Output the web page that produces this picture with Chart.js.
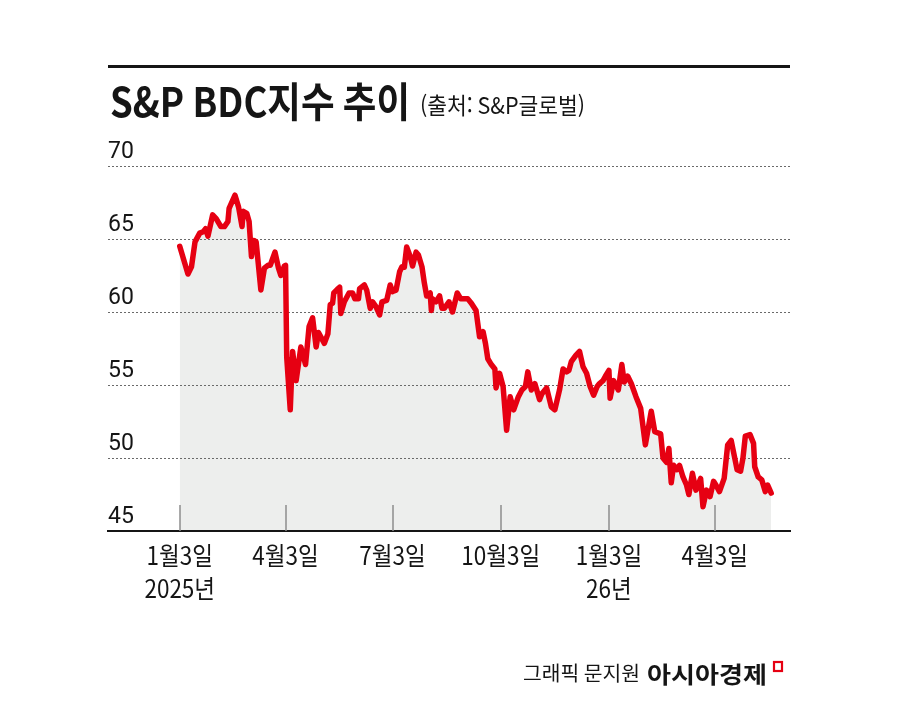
<!DOCTYPE html>
<html lang="ko">
<head>
<meta charset="utf-8">
<title>S&amp;P BDC지수 추이</title>
<script src="https://cdn.jsdelivr.net/npm/chart.js@4/dist/chart.umd.min.js"></script>
<style>
  html, body { margin: 0; padding: 0; background: #fff; overflow: hidden; }
  canvas { display: block; }
</style>
</head>
<body>
<canvas id="bdcChart" width="901" height="721"></canvas>
<script>
// 2025-01-03 기준 경과일수 / S&P BDC 지수
const dayOffsets = [
  0, 7, 10, 13, 17, 20, 22, 24, 28, 31,
  35, 38, 41, 42, 47, 50, 53, 54, 57, 59,
  61, 63, 65, 69, 72, 75, 77, 81, 84, 86,
  89, 90, 91, 94, 96, 99, 103, 107, 110, 113,
  116, 118, 123, 126, 128, 130, 131, 134, 136, 137,
  140, 144, 147, 149, 152, 153, 157, 159, 162, 164,
  167, 170, 172, 176, 179, 181, 184, 187, 189, 191,
  193, 196, 198, 201, 203, 206, 208, 210, 213, 214,
  215, 218, 221, 223, 225, 229, 232, 236, 239, 242,
  245, 248, 252, 255, 258, 260, 262, 265, 268, 269,
  272, 275, 278, 281, 284, 288, 291, 294, 296, 299,
  302, 306, 308, 312, 316, 319, 323, 326, 329, 331,
  333, 337, 340, 343, 346, 349, 352, 355, 357, 360,
  362, 365, 366, 369, 373, 376, 378, 381, 384, 388,
  392, 396, 401, 404, 409, 411, 414, 416, 418, 420,
  423, 425, 428, 431, 433, 436, 439, 443, 445, 448,
  451, 454, 456, 459, 463, 466, 469, 472, 474, 477,
  479, 481, 485, 488, 489, 492, 495, 498, 500, 503
];
const bdcIndex = [
  64.5, 62.6, 63.1, 64.8, 65.4, 65.5, 65.7, 65.2, 66.65, 66.4,
  65.85, 65.85, 66.2, 67.1, 68.0, 67.2, 65.85, 66.9, 66.76, 66.2,
  63.8, 64.9, 64.8, 61.5, 63.0, 63.2, 63.2, 64.1, 63.0, 62.5,
  63.15, 63.2, 56.9, 53.3, 57.3, 55.3, 57.6, 56.4, 59.0, 59.6,
  57.6, 58.6, 57.85, 58.5, 60.5, 60.6, 61.3, 61.55, 61.7, 59.9,
  60.7, 61.3, 61.3, 60.9, 60.9, 61.6, 61.85, 61.5, 60.25, 60.7,
  60.35, 59.8, 60.7, 60.8, 61.85, 61.4, 61.5, 62.76, 63.1, 63.06,
  64.45, 63.8, 63.15, 64.1, 63.9, 63.1, 62.0, 61.1, 61.3, 60.1,
  60.9, 60.7, 61.1, 60.25, 60.25, 60.7, 60.0, 61.3, 60.9, 60.9,
  60.9, 60.6, 60.1, 58.3, 58.65, 57.85, 56.8, 56.4, 56.1, 54.8,
  55.8, 54.9, 51.9, 54.2, 53.3, 54.2, 54.66, 54.9, 55.9, 54.66,
  55.1, 54.0, 54.4, 54.8, 53.5, 53.3, 54.66, 56.1, 55.9, 56.0,
  56.6, 57.05, 57.3, 56.25, 55.8, 54.9, 54.3, 54.9, 55.1, 55.3,
  55.6, 56.0, 54.1, 55.3, 54.66, 56.4, 55.2, 55.6, 55.1, 54.2,
  53.4, 50.9, 53.2, 51.8, 51.65, 50.0, 49.7, 50.65, 48.3, 49.5,
  49.2, 49.5, 48.7, 48.15, 47.5, 48.95, 47.8, 48.6, 46.66, 47.8,
  47.35, 48.4, 48.15, 47.7, 48.6, 50.9, 51.2, 50.0, 49.2, 49.1,
  50.0, 51.5, 51.6, 51.0, 49.4, 48.7, 48.5, 47.7, 48.15, 47.6
];

const tickDates = ['2025-01-03', '2025-04-03', '2025-07-03', '2025-10-03', '2026-01-03', '2026-04-03'];
const tickLabels = [['1월3일', '2025년'], ['4월3일'], ['7월3일'], ['10월3일'], ['1월3일', '26년'], ['4월3일']];
const yTicks = [45, 50, 55, 60, 65, 70];

const titleText = 'S&P BDC지수 추이';
const sourceText = '(출처: S&P글로벌)';
const creditText = '그래픽 문지원';
const brandText = '아시아경제';

const base = Date.parse(tickDates[0]);
const tickDays = tickDates.map(d => Math.round((Date.parse(d) - base) / 86400000));

const KR = '"Noto Sans CJK KR", "Noto Sans", sans-serif';

// 폭 맞춰 글자 그리기 (원본 글꼴이 좁은 편이라 가로로 줄임)
function drawText(ctx, text, x, y, font, opt) {
  opt = opt || {};
  ctx.save();
  ctx.font = font;
  ctx.fillStyle = opt.color || '#151515';
  ctx.textBaseline = 'alphabetic';
  ctx.textAlign = opt.align || 'left';
  let sx = opt.sx || 1;
  if (opt.width) sx = opt.width / ctx.measureText(text).width;
  ctx.translate(x, y);
  ctx.scale(sx, 1);
  ctx.fillText(text, 0, 0);
  ctx.restore();
}

const decor = {
  id: 'decor',
  beforeDatasetsDraw(chart) {
    // x축 눈금: 기준선에서 위로 짧게
    const { ctx, scales: { x }, chartArea } = chart;
    ctx.save();
    ctx.strokeStyle = '#8c8c8c';
    ctx.lineWidth = 1.5;
    x.ticks.forEach(t => {
      const px = Math.round(x.getPixelForValue(t.value));
      ctx.beginPath();
      ctx.moveTo(px, chartArea.bottom - 26);
      ctx.lineTo(px, chartArea.bottom);
      ctx.stroke();
    });
    ctx.restore();
  },
  afterDraw(chart) {
    const { ctx, scales: { x }, chartArea } = chart;
    x.ticks.forEach((t, i) => {
      const px = x.getPixelForValue(t.value);
      const lines = tickLabels[i] || [];
      lines.forEach((s, j) => {
        drawText(ctx, s, px, chartArea.bottom + 34 + j * 33, '25px ' + KR, { align: 'center', sx: 0.9 });
      });
    });

    // 상단 굵은 선
    ctx.save();
    ctx.fillStyle = '#151515';
    ctx.fillRect(chartArea.left, 65, chartArea.right - chartArea.left, 3);
    ctx.restore();

    drawText(ctx, titleText, 110, 117, 'bold 41px ' + KR, { width: 300 });
    drawText(ctx, sourceText, 420, 114, '23px ' + KR, { width: 165 });

    drawText(ctx, creditText, 523, 681, '20px ' + KR, { width: 117 });
    drawText(ctx, brandText, 647, 683, 'bold 23px ' + KR, { width: 120 });
    ctx.save();
    ctx.strokeStyle = '#e60012';
    ctx.lineWidth = 2.2;
    ctx.strokeRect(774, 662, 8, 9);
    ctx.restore();
  }
};

const ctx = document.getElementById('bdcChart').getContext('2d');
const myChart = new Chart(ctx, {
  type: 'line',
  data: {
    datasets: [{
      data: dayOffsets.map((d, i) => ({ x: d, y: bdcIndex[i] })),
      borderColor: '#e60012',
      borderWidth: 5.5,
      borderJoinStyle: 'round',
      borderCapStyle: 'round',
      backgroundColor: '#edeeed',
      fill: 'start',
      pointRadius: 0,
      tension: 0
    }]
  },
  options: {
    responsive: false,
    animation: false,
    layout: { padding: { left: 108, right: 111, top: 166, bottom: 0 } },
    plugins: {
      legend: { display: false },
      tooltip: { enabled: false },
      filler: { drawTime: 'beforeDraw' }
    },
    scales: {
      x: {
        type: 'linear',
        min: -61,
        max: 519,
        afterBuildTicks: s => { s.ticks = tickDays.map(v => ({ value: v })); },
        afterFit: s => { s.height = 190; },
        ticks: { display: false },
        grid: { display: false },
        border: { display: true, color: '#151515', width: 2 }
      },
      y: {
        min: 45,
        max: 70,
        afterBuildTicks: s => { s.ticks = yTicks.map(v => ({ value: v })); },
        afterFit: s => { s.width = 0; },
        ticks: {
          mirror: true,
          padding: 0,
          labelOffset: -14,
          color: '#151515',
          font: { family: 'Roboto', size: 23 }
        },
        grid: {
          color: c => (c.tick && c.tick.value === 45 ? 'rgba(0,0,0,0)' : '#6a6a6a'),
          lineWidth: 1,
          drawTicks: false
        },
        border: { display: false, dash: [2, 2] }
      }
    }
  },
  plugins: [decor]
});
</script>
</body>
</html>
